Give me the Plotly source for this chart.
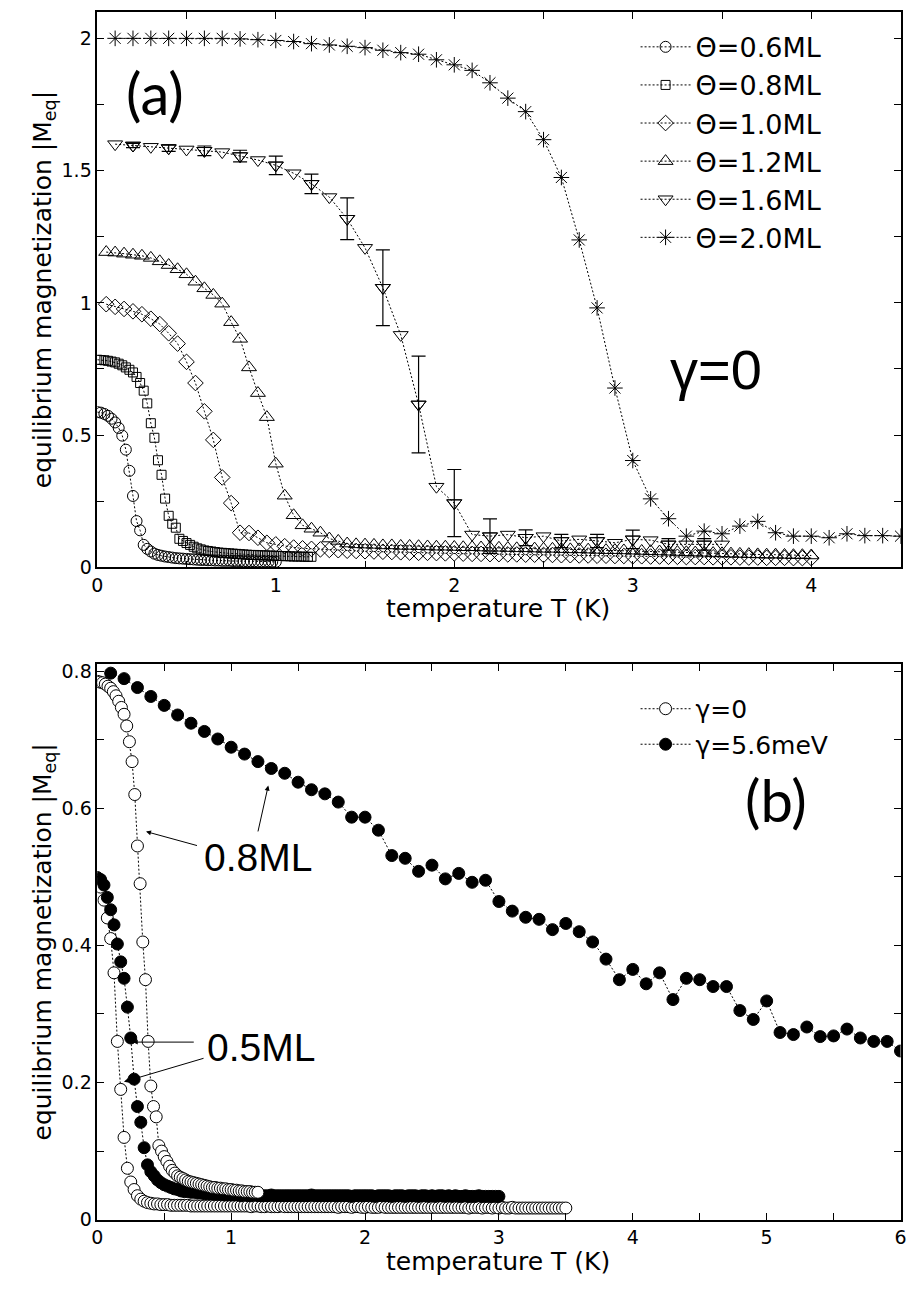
import plotly.graph_objects as go

# ---------------- data: panel (a), gamma = 0 ----------------
T_06 = [0.00, 0.02, 0.04, 0.06, 0.08, 0.10, 0.12, 0.14, 0.16, 0.18,
        0.20, 0.22, 0.24, 0.26, 0.28, 0.30, 0.32, 0.34, 0.36, 0.38,
        0.40, 0.42, 0.44, 0.46, 0.48, 0.50, 0.52, 0.54, 0.56, 0.58,
        0.60, 0.62, 0.64, 0.66, 0.68, 0.70, 0.72, 0.74, 0.76, 0.78,
        0.80, 0.82, 0.84, 0.86, 0.88, 0.90, 0.92, 0.94, 0.96, 0.98, 1.00]
M_06 = [0.587, 0.585, 0.580, 0.573, 0.562, 0.548, 0.527, 0.498, 0.445, 0.365,
        0.270, 0.175, 0.140, 0.085, 0.070, 0.060, 0.052, 0.047, 0.044, 0.041,
        0.039, 0.037, 0.035, 0.034, 0.033, 0.032, 0.031, 0.030, 0.029, 0.028,
        0.028, 0.027, 0.027, 0.026, 0.026, 0.025, 0.025, 0.025, 0.024, 0.024,
        0.024, 0.023, 0.023, 0.023, 0.023, 0.022, 0.022, 0.022, 0.022, 0.021, 0.021]

T_08 = [0.00, 0.02, 0.04, 0.06, 0.08, 0.10, 0.12, 0.14, 0.16, 0.18,
        0.20, 0.22, 0.24, 0.26, 0.28, 0.30, 0.32, 0.34, 0.36, 0.38,
        0.40, 0.42, 0.44, 0.46, 0.48, 0.50, 0.52, 0.54, 0.56, 0.58,
        0.60, 0.62, 0.64, 0.66, 0.68, 0.70, 0.72, 0.74, 0.76, 0.78,
        0.80, 0.82, 0.84, 0.86, 0.88, 0.90, 0.92, 0.94, 0.96, 0.98,
        1.00, 1.02, 1.04, 1.06, 1.08, 1.10, 1.12, 1.14, 1.16, 1.18, 1.20]
M_08 = [0.785, 0.784, 0.783, 0.781, 0.778, 0.775, 0.770, 0.764, 0.756, 0.747,
        0.737, 0.720, 0.697, 0.668, 0.620, 0.545, 0.490, 0.405, 0.350, 0.260,
        0.195, 0.165, 0.150, 0.108, 0.100, 0.092, 0.085, 0.078, 0.072, 0.068,
        0.064, 0.062, 0.060, 0.058, 0.056, 0.055, 0.054, 0.053, 0.052, 0.051,
        0.050, 0.049, 0.048, 0.047, 0.047, 0.046, 0.046, 0.045, 0.045, 0.044,
        0.044, 0.043, 0.043, 0.042, 0.042, 0.041, 0.041, 0.041, 0.040, 0.040, 0.040]

T_10 = [0.05, 0.10, 0.15, 0.20, 0.25, 0.30, 0.35, 0.40, 0.45, 0.50,
        0.55, 0.60, 0.65, 0.70, 0.75, 0.80, 0.85, 0.90, 0.95, 1.00,
        1.05, 1.10, 1.15, 1.20, 1.25, 1.30, 1.35, 1.40, 1.45, 1.50,
        1.55, 1.60, 1.65, 1.70, 1.75, 1.80, 1.85, 1.90, 1.95, 2.00,
        2.05, 2.10, 2.15, 2.20, 2.25, 2.30, 2.35, 2.40, 2.45, 2.50,
        2.55, 2.60, 2.65, 2.70, 2.75, 2.80, 2.85, 2.90, 2.95, 3.00,
        3.05, 3.10, 3.15, 3.20, 3.25, 3.30, 3.35, 3.40, 3.45, 3.50,
        3.55, 3.60, 3.65, 3.70, 3.75, 3.80, 3.85, 3.90, 3.95, 4.00]
M_10 = [0.995, 0.985, 0.977, 0.968, 0.957, 0.940, 0.920, 0.885, 0.846, 0.777,
        0.697, 0.590, 0.482, 0.340, 0.243, 0.131, 0.130, 0.112, 0.093, 0.087,
        0.080, 0.075, 0.072, 0.070, 0.068, 0.066, 0.065, 0.063, 0.062, 0.061,
        0.060, 0.059, 0.058, 0.057, 0.056, 0.055, 0.055, 0.054, 0.053, 0.053,
        0.052, 0.051, 0.051, 0.050, 0.050, 0.049, 0.049, 0.048, 0.048, 0.047,
        0.047, 0.046, 0.046, 0.045, 0.045, 0.044, 0.044, 0.043, 0.043, 0.042,
        0.042, 0.041, 0.041, 0.040, 0.040, 0.039, 0.039, 0.039, 0.038, 0.038,
        0.038, 0.037, 0.037, 0.037, 0.036, 0.036, 0.036, 0.035, 0.035, 0.035]

T_12 = T_10
M_12 = [1.192, 1.190, 1.186, 1.182, 1.178, 1.170, 1.157, 1.143, 1.127, 1.108,
        1.080, 1.055, 1.030, 0.997, 0.927, 0.864, 0.756, 0.659, 0.568, 0.392,
        0.271, 0.197, 0.159, 0.146, 0.131, 0.109, 0.100, 0.090, 0.087, 0.086,
        0.085, 0.083, 0.083, 0.081, 0.081, 0.080, 0.079, 0.078, 0.078, 0.077,
        0.076, 0.076, 0.075, 0.074, 0.074, 0.073, 0.072, 0.072, 0.071, 0.070,
        0.070, 0.069, 0.068, 0.068, 0.067, 0.066, 0.065, 0.065, 0.064, 0.063,
        0.062, 0.061, 0.060, 0.059, 0.058, 0.057, 0.056, 0.055, 0.054, 0.053,
        0.052, 0.051, 0.050, 0.049, 0.048, 0.048, 0.047, 0.046, 0.046, 0.045]

T_20 = [0.1, 0.2, 0.3, 0.4, 0.5, 0.6, 0.7, 0.8, 0.9, 1.0,
        1.1, 1.2, 1.3, 1.4, 1.5, 1.6, 1.7, 1.8, 1.9, 2.0,
        2.1, 2.2, 2.3, 2.4, 2.5, 2.6, 2.7, 2.8, 2.9, 3.0,
        3.1, 3.2, 3.3, 3.4, 3.5, 3.6, 3.7, 3.8, 3.9, 4.0,
        4.1, 4.2, 4.3, 4.4, 4.5]
M_20 = [2.000, 2.000, 2.000, 2.000, 2.000, 2.000, 2.000, 1.998, 1.995, 1.992,
        1.988, 1.980, 1.975, 1.970, 1.965, 1.955, 1.946, 1.940, 1.919, 1.900,
        1.879, 1.832, 1.774, 1.723, 1.617, 1.474, 1.238, 0.981, 0.678, 0.404,
        0.259, 0.184, 0.118, 0.137, 0.127, 0.156, 0.174, 0.131, 0.118, 0.118,
        0.112, 0.127, 0.120, 0.120, 0.118]

T_16 = T_20[:35]
M_16 = [1.600, 1.595, 1.590, 1.585, 1.580, 1.575, 1.570, 1.555, 1.540, 1.520,
        1.490, 1.450, 1.400, 1.318, 1.208, 1.057, 0.879, 0.616, 0.305, 0.243,
        0.124, 0.118, 0.124, 0.112, 0.118, 0.100, 0.106, 0.100, 0.093, 0.106,
        0.103, 0.087, 0.087, 0.087, 0.087]
# error bars on every second point (T = 0.2, 0.4, ... 3.4)
E_16 = [0.008, 0.012, 0.018, 0.022, 0.035, 0.037, 0.079, 0.143, 0.183, 0.127,
        0.065, 0.030, 0.025, 0.025, 0.035, 0.022, 0.022]

LABELS_A = ["Θ=0.6ML", "Θ=0.8ML", "Θ=1.0ML", "Θ=1.2ML", "Θ=1.6ML", "Θ=2.0ML"]

# ---------------- data: panel (b) ----------------
T_B = [0.000, 0.025, 0.050, 0.075, 0.100, 0.125, 0.150, 0.175, 0.200, 0.225,
       0.250, 0.275, 0.300, 0.325, 0.350, 0.375, 0.400, 0.425, 0.450, 0.475,
       0.500, 0.525, 0.550, 0.575, 0.600, 0.625, 0.650, 0.675, 0.700, 0.725,
       0.750, 0.775, 0.800, 0.825, 0.850, 0.875, 0.900, 0.925, 0.950, 0.975,
       1.000, 1.025, 1.050, 1.075, 1.100, 1.125, 1.150, 1.175, 1.200, 1.225,
       1.250, 1.275, 1.300, 1.325, 1.350, 1.375, 1.400, 1.425, 1.450, 1.475,
       1.500, 1.525, 1.550, 1.575, 1.600, 1.625, 1.650, 1.675, 1.700, 1.725,
       1.750, 1.775, 1.800, 1.825, 1.850, 1.875, 1.900, 1.925, 1.950, 1.975,
       2.000, 2.025, 2.050, 2.075, 2.100, 2.125, 2.150, 2.175, 2.200, 2.225,
       2.250, 2.275, 2.300, 2.325, 2.350, 2.375, 2.400, 2.425, 2.450, 2.475,
       2.500, 2.525, 2.550, 2.575, 2.600, 2.625, 2.650, 2.675, 2.700, 2.725,
       2.750, 2.775, 2.800, 2.825, 2.850, 2.875, 2.900, 2.925, 2.950, 2.975,
       3.000, 3.025, 3.050, 3.075, 3.100, 3.125, 3.150, 3.175, 3.200, 3.225,
       3.250, 3.275, 3.300, 3.325, 3.350, 3.375, 3.400, 3.425, 3.450, 3.475,
       3.500]
# gamma = 0, 0.5 ML (T = 0 ... 3.5)
M_G0_05 = [0.496, 0.485, 0.466, 0.440, 0.410, 0.360, 0.260, 0.190, 0.120, 0.075,
           0.055, 0.044, 0.035, 0.030, 0.027, 0.025, 0.024, 0.023, 0.023, 0.022,
           0.022, 0.022, 0.021, 0.021, 0.021, 0.021, 0.021, 0.021, 0.020, 0.020,
           0.020, 0.020, 0.020, 0.020, 0.020, 0.020, 0.020, 0.020, 0.020, 0.020,
           0.020, 0.020, 0.020, 0.020, 0.020, 0.020, 0.019, 0.020, 0.020, 0.019,
           0.019, 0.020, 0.019, 0.019, 0.019, 0.020, 0.019, 0.019, 0.019, 0.019,
           0.019, 0.019, 0.019, 0.019, 0.019, 0.019, 0.019, 0.019, 0.019, 0.019,
           0.019, 0.019, 0.018, 0.019, 0.019, 0.019, 0.018, 0.019, 0.019, 0.018,
           0.018, 0.019, 0.018, 0.018, 0.018, 0.019, 0.018, 0.018, 0.018, 0.018,
           0.018, 0.018, 0.018, 0.018, 0.018, 0.018, 0.018, 0.018, 0.018, 0.018,
           0.018, 0.018, 0.018, 0.018, 0.018, 0.018, 0.018, 0.018, 0.018, 0.018,
           0.018, 0.017, 0.018, 0.018, 0.018, 0.017, 0.018, 0.018, 0.017, 0.018,
           0.017, 0.018, 0.017, 0.017, 0.018, 0.017, 0.017, 0.017, 0.017, 0.017,
           0.017, 0.017, 0.017, 0.017, 0.017, 0.017, 0.017, 0.017, 0.017, 0.017,
           0.017]
# gamma = 5.6 meV, 0.5 ML (T = 0 ... 3.0)
M_G56_05 = [0.499, 0.496, 0.488, 0.470, 0.452, 0.430, 0.402, 0.376, 0.352, 0.310,
            0.265, 0.205, 0.165, 0.142, 0.105, 0.080, 0.070, 0.064, 0.058, 0.054,
            0.051, 0.049, 0.047, 0.045, 0.044, 0.042, 0.041, 0.041, 0.040, 0.040,
            0.039, 0.039, 0.038, 0.038, 0.038, 0.037, 0.037, 0.037, 0.036, 0.036,
            0.036, 0.036, 0.036, 0.035, 0.036, 0.035, 0.035, 0.036, 0.035, 0.035,
            0.035, 0.035, 0.036, 0.035, 0.035, 0.035, 0.035, 0.035, 0.035, 0.035,
            0.035, 0.035, 0.035, 0.035, 0.036, 0.035, 0.035, 0.035, 0.035, 0.035,
            0.035, 0.035, 0.035, 0.035, 0.035, 0.035, 0.034, 0.035, 0.035, 0.035,
            0.035, 0.035, 0.035, 0.034, 0.035, 0.035, 0.035, 0.035, 0.034, 0.035,
            0.035, 0.035, 0.034, 0.035, 0.035, 0.035, 0.034, 0.035, 0.035, 0.034,
            0.035, 0.034, 0.035, 0.035, 0.034, 0.035, 0.034, 0.035, 0.034, 0.034,
            0.035, 0.034, 0.034, 0.034, 0.035, 0.034, 0.034, 0.034, 0.034, 0.034,
            0.034]
# gamma = 5.6 meV, 0.8 ML (T = 0.1 ... 6.0)
T_B08 = [0.1, 0.2, 0.3, 0.4, 0.5, 0.6, 0.7, 0.8, 0.9, 1.0,
         1.1, 1.2, 1.3, 1.4, 1.5, 1.6, 1.7, 1.8, 1.9, 2.0,
         2.1, 2.2, 2.3, 2.4, 2.5, 2.6, 2.7, 2.8, 2.9, 3.0,
         3.1, 3.2, 3.3, 3.4, 3.5, 3.6, 3.7, 3.8, 3.9, 4.0,
         4.1, 4.2, 4.3, 4.4, 4.5, 4.6, 4.7, 4.8, 4.9, 5.0,
         5.1, 5.2, 5.3, 5.4, 5.5, 5.6, 5.7, 5.8, 5.9, 6.0]
M_G56_08 = [0.797, 0.789, 0.776, 0.763, 0.750, 0.736, 0.724, 0.712, 0.701, 0.689,
            0.679, 0.668, 0.658, 0.651, 0.638, 0.627, 0.621, 0.609, 0.587, 0.587,
            0.568, 0.531, 0.527, 0.508, 0.517, 0.497, 0.505, 0.492, 0.495, 0.464,
            0.450, 0.441, 0.438, 0.423, 0.432, 0.420, 0.405, 0.380, 0.350, 0.365,
            0.344, 0.360, 0.321, 0.352, 0.350, 0.340, 0.340, 0.305, 0.292, 0.319,
            0.273, 0.270, 0.281, 0.267, 0.268, 0.278, 0.265, 0.260, 0.260, 0.246]
# gamma = 0, 0.8 ML is the same run as Theta = 0.8 ML in panel (a)
LABELS_B = ["γ=0", "γ=5.6meV"]

for a, b in [(T_06, M_06), (T_08, M_08), (T_10, M_10), (T_12, M_12),
             (T_16, M_16), (T_20, M_20), (T_B, M_G0_05), (T_B08, M_G56_08)]:
    assert len(a) == len(b), (len(a), len(b))
assert len(M_G56_05) == 121 and len(E_16) == len(M_16[1::2])

# ---------------- figure ----------------
W, H = 909, 1291
FONT = "Liberation Sans, Arial, Helvetica, sans-serif"
DJ = "DejaVu Sans, Verdana, sans-serif"


def fx(p):
    return p / W


def fy(p):
    return 1 - p / H


LINE = dict(color="black", width=1, dash="2px,2px")
fig = go.Figure()

specs_a = [
    (T_06, M_06, "circle-open", 11),
    (T_08, M_08, "square-open", 9),
    (T_10, M_10, "diamond-open", 12),
    (T_12, M_12, "triangle-up-open", 13),
    (T_16, M_16, "triangle-down-open", 13),
    (T_20, M_20, "asterisk-open", 13),
]
for (tx, my, sym, sz), name in zip(specs_a, LABELS_A):
    fig.add_trace(go.Scatter(
        x=tx, y=my, mode="lines+markers", name=name, legend="legend",
        line=LINE,
        marker=dict(symbol=sym, size=sz, color="black",
                    line=dict(color="black", width=1)),
        xaxis="x", yaxis="y"))
    if name == "Θ=1.6ML":
        fig.add_trace(go.Scatter(
            x=T_16[1::2], y=M_16[1::2], mode="markers", showlegend=False,
            marker=dict(symbol=sym, size=sz, color="black",
                        line=dict(color="black", width=1)),
            error_y=dict(type="data", array=E_16, visible=True,
                         color="black", thickness=1.2, width=7),
            xaxis="x", yaxis="y"))

open_m = dict(symbol="circle", size=12, color="white",
              line=dict(color="black", width=1))
fill_m = dict(symbol="circle", size=12, color="black",
              line=dict(color="black", width=1))
fig.add_trace(go.Scatter(x=T_B, y=M_G0_05, mode="lines+markers",
                         name=LABELS_B[0], legend="legend2", line=LINE,
                         marker=open_m, xaxis="x2", yaxis="y2"))
fig.add_trace(go.Scatter(x=T_B08, y=M_G56_08, mode="lines+markers",
                         name=LABELS_B[1], legend="legend2", line=LINE,
                         marker=fill_m, xaxis="x2", yaxis="y2"))
fig.add_trace(go.Scatter(x=T_B[:121], y=M_G56_05, mode="lines+markers",
                         showlegend=False, line=LINE, marker=fill_m,
                         xaxis="x2", yaxis="y2"))
fig.add_trace(go.Scatter(x=T_08, y=M_08, mode="lines+markers",
                         showlegend=False, line=LINE, marker=open_m,
                         xaxis="x2", yaxis="y2"))

axis_common = dict(showline=True, linecolor="black", linewidth=1.5,
                   mirror="ticks", ticks="inside", ticklen=7, tickwidth=1,
                   tickcolor="black", showgrid=False, zeroline=False,
                   ticklabeloverflow="allow",
                   tickfont=dict(family=DJ, size=19, color="black"))

xdom = [fx(92.5), fx(906.5)]
fig.update_layout(
    width=W, height=H, margin=dict(l=0, r=0, t=0, b=0),
    paper_bgcolor="white", plot_bgcolor="white",
    font=dict(family=FONT, color="black"),
    xaxis=dict(domain=xdom, range=[0, 4.5], anchor="y",
               tickvals=[0, 0.5, 1, 1.5, 2, 2.5, 3, 3.5, 4, 4.5],
               ticktext=["0", "", "1", "", "2", "", "3", "", "4", ""],
               **axis_common),
    yaxis=dict(domain=[fy(570), fy(8)], range=[0, 2.1], anchor="x",
               tickvals=[0, 0.25, 0.5, 0.75, 1, 1.25, 1.5, 1.75, 2],
               ticktext=["0", "", "0.5", "", "1", "", "1.5", "", "2"],
               **axis_common),
    xaxis2=dict(domain=xdom, range=[0, 6.0], anchor="y2",
                tickvals=[0, 0.5, 1, 1.5, 2, 2.5, 3, 3.5, 4, 4.5, 5, 5.5, 6],
                ticktext=["0", "", "1", "", "2", "", "3", "", "4", "", "5", "", "6"],
                **axis_common),
    yaxis2=dict(domain=[fy(1230), fy(668)], range=[0, 0.81], anchor="x2",
                tickvals=[0, 0.1, 0.2, 0.3, 0.4, 0.5, 0.6, 0.7, 0.8],
                ticktext=["0", "", "0.2", "", "0.4", "", "0.6", "", "0.8"],
                **axis_common),
    legend=dict(x=fx(638), y=fy(19), xanchor="left", yanchor="top",
                bgcolor="rgba(0,0,0,0)", itemwidth=50, tracegroupgap=0,
                font=dict(family=DJ, size=27, color="black")),
    legend2=dict(x=fx(638), y=fy(690), xanchor="left", yanchor="top",
                 bgcolor="rgba(0,0,0,0)", itemwidth=50, tracegroupgap=0,
                 font=dict(family=DJ, size=25, color="black")),
    showlegend=True,
)


def label(text, xp, yp, family, size, angle=0):
    return dict(text=text, x=fx(xp), y=fy(yp), xref="paper", yref="paper",
                xanchor="center", yanchor="middle", showarrow=False,
                textangle=angle,
                font=dict(family=family, size=size, color="black"))


ann = []
for yc in (612, 1272):
    ann.append(label("temperature T (K)", 499, yc, DJ, 25))
for yc in (289, 949):
    ann.append(label("equilibrium magnetization |M<sub>eq</sub>|", 38, yc,
                     DJ, 25, angle=-90))
ann.append(label("(a)", 151, 90, "Lato", 58))
ann.append(label("(b)", 780, 805, "Lato", 58))
ann.append(label("γ=0", 719, 370, FONT, 56))
ann.append(label("0.8ML", 255, 864, FONT, 39))
ann.append(label("0.5ML", 258, 1056, FONT, 39))
arrows = [((0.364, 0.566), (0.756, 0.545)),
          ((1.277, 0.633), (1.198, 0.564)),
          ((0.265, 0.259), (0.732, 0.259)),
          ((0.199, 0.201), (0.805, 0.236))]
for (hx, hy), (tx, ty) in arrows:
    ann.append(dict(text="", x=hx, y=hy, xref="x2", yref="y2",
                    ax=tx, ay=ty, axref="x2", ayref="y2", showarrow=True,
                    arrowhead=2, arrowsize=1, arrowwidth=1, arrowcolor="black",
                    standoff=0, startstandoff=0))
fig.update_layout(annotations=ann)

fig.write_html("out.html")
